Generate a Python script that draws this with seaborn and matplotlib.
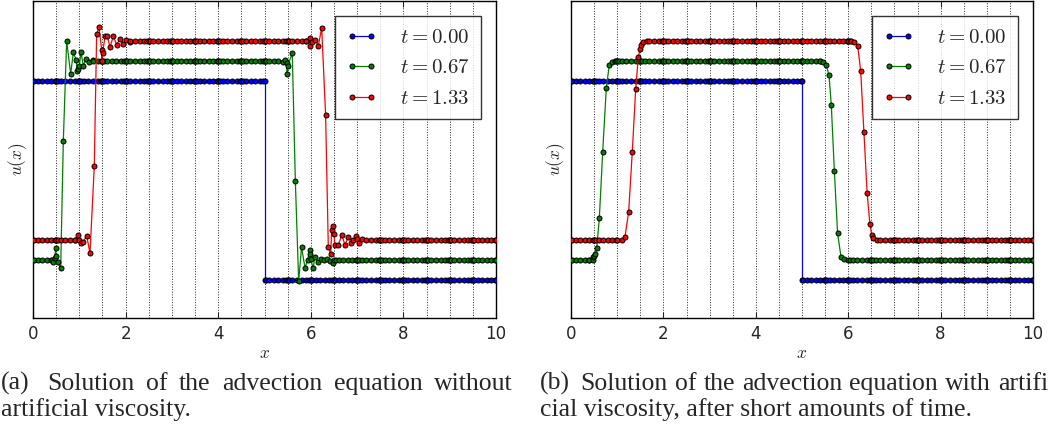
import numpy as np
import pandas as pd
import matplotlib
matplotlib.use("Agg")
import matplotlib.pyplot as plt
import seaborn as sns

# ---------------- data ----------------
LABELS = [r"$t=0.00$", r"$t=0.67$", r"$t=1.33$"]
COLORS = ["#0000ff", "#008000", "#ff0000"]
SHIFT = [0.0, 0.1, 0.2]          # vertical offset used for display
STEP_RISE = [0.0, 0.67, 1.33]    # plateau u=1 between rise and fall
STEP_FALL = [5.0, 5.67, 6.33]
ELEM_W = 0.5
N_ELEM = 20
NODE_FRAC = [0.0, 0.0641, 0.2042, 0.3954, 0.6046, 0.7958, 0.9359, 1.0]
XTICKS = [0, 2, 4, 6, 8, 10]

# (a) without artificial viscosity -- transitions
A_G_RISE_X = [0.40, 0.44, 0.47, 0.49, 0.50, 0.53, 0.598, 0.655, 0.727, 0.814, 0.871,
              0.929, 0.957, 0.98, 1.0, 1.037, 1.087, 1.145, 1.216, 1.30]
A_G_RISE_U = [0.0, -0.01, 0.01, 0.06, 0.02, -0.01, -0.04, 0.60, 1.10, 0.935, 1.042,
              1.006, 0.947, 0.96, 0.975, 1.042, 0.975, 1.009, 0.992, 1.002]
A_G_FALL_X = [5.30, 5.40, 5.45, 5.48, 5.49, 5.50, 5.60, 5.666, 5.738, 5.80, 5.875, 5.93,
              5.976, 5.99, 6.0, 6.05, 6.09, 6.15, 6.21, 6.28, 6.35, 6.42, 6.47, 6.50, 6.55]
A_G_FALL_U = [1.0, 0.995, 1.005, 0.99, 0.935, 0.972, 1.04, 0.397, -0.105, 0.064, -0.038, 0.0,
              0.05, 0.03, 0.005, -0.04, 0.017, -0.01, 0.005, 0.0, 0.005, -0.005, -0.013, 0.003, 0.0]
A_R_RISE_X = [0.90, 0.979, 1.0, 1.044, 1.087, 1.16, 1.231, 1.324, 1.375, 1.425, 1.483, 1.49,
              1.505, 1.555, 1.605, 1.663, 1.735, 1.807, 1.879, 1.95, 2.01, 2.095]
A_R_RISE_U = [0.0, 0.026, 0.0, -0.012, -0.007, 0.023, -0.066, 0.373, 1.035, 1.068, 0.956, 0.90,
              0.939, 1.023, 1.023, 0.969, 1.023, 0.981, 1.011, 0.986, 1.002, 0.993]
A_R_FALL_X = [5.90, 5.98, 5.985, 6.03, 6.09, 6.163, 6.235, 6.32, 6.378, 6.43, 6.45, 6.473, 6.50,
              6.52, 6.595, 6.667, 6.74, 6.81, 6.87, 6.92, 6.976, 7.0, 7.05, 7.10, 7.2]
A_R_FALL_U = [1.0, 1.014, 0.973, 0.995, 1.006, 0.976, 1.065, 0.628, -0.033, -0.071, 0.051, 0.073, 0.03,
              -0.024, -0.024, 0.026, -0.024, 0.018, -0.012, 0.0, 0.02, 0.005, -0.012, 0.005, 0.0]

# (b) with artificial viscosity
B_G_RISE_X = [0.40, 0.47, 0.483, 0.50, 0.523, 0.556, 0.613, 0.686, 0.764, 0.829, 0.887, 0.95]
B_G_RISE_U = [0.0, 0.003, 0.014, 0.02, 0.031, 0.059, 0.21, 0.542, 0.863, 0.98, 0.995, 1.0]
B_G_FALL_X = [5.40, 5.46, 5.52, 5.584, 5.634, 5.70, 5.77, 5.844, 5.909, 6.0]
B_G_FALL_U = [1.0, 0.995, 0.98, 0.93, 0.779, 0.449, 0.135, 0.017, 0.004, 0.0]
B_R_RISE_X = [1.0, 1.10, 1.169, 1.248, 1.327, 1.40, 1.457, 1.494, 1.515, 1.565, 1.65]
B_R_RISE_U = [0.0, 0.003, 0.018, 0.143, 0.445, 0.758, 0.919, 0.959, 0.98, 0.994, 1.0]
B_R_FALL_X = [6.05, 6.13, 6.205, 6.27, 6.34, 6.41, 6.47, 6.51, 6.54, 6.62]
B_R_FALL_U = [1.0, 0.994, 0.976, 0.85, 0.545, 0.236, 0.081, 0.026, 0.009, 0.0]

CAPTION_A = ["(a) Solution of the advection equation without", "artificial viscosity."]
CAPTION_B = ["(b) Solution of the advection equation with artifi",
             "cial viscosity, after short amounts of time."]

PANEL_A = [[], [(A_G_RISE_X, A_G_RISE_U), (A_G_FALL_X, A_G_FALL_U)],
           [(A_R_RISE_X, A_R_RISE_U), (A_R_FALL_X, A_R_FALL_U)]]
PANEL_B = [[], [(B_G_RISE_X, B_G_RISE_U), (B_G_FALL_X, B_G_FALL_U)],
           [(B_R_RISE_X, B_R_RISE_U), (B_R_FALL_X, B_R_FALL_U)]]


def build_series(rise, fall, windows):
    xs, us = [], []
    for k in range(N_ELEM):
        a = k * ELEM_W
        for f in NODE_FRAC:
            x = a + f * ELEM_W
            if any(min(wx) <= x <= max(wx) for wx, _ in windows):
                continue
            xe = a + min(max(f, 1e-6), 1 - 1e-6) * ELEM_W
            xs.append(x)
            us.append(1.0 if rise <= xe < fall else 0.0)
    for wx, wu in windows:
        xs += list(wx)
        us += list(wu)
    xs = np.array(xs)
    us = np.array(us)
    order = np.argsort(xs, kind="stable")
    return xs[order], us[order]


def panel_frame(panel):
    frames = []
    for i in range(3):
        x, u = build_series(STEP_RISE[i], STEP_FALL[i], panel[i])
        frames.append(pd.DataFrame({"x": x, "y": u + SHIFT[i], "t": LABELS[i]}))
    return pd.concat(frames, ignore_index=True)


# ---------------- style ----------------
sns.set_style("ticks")
plt.rcParams["font.family"] = ["DejaVu Sans"]
plt.rcParams["mathtext.fontset"] = "cm"

W, H = 1050, 429
fig = plt.figure(figsize=(W / 100, H / 100), dpi=100)

ax_pos = [(33, 496), (571, 1033)]
top_px, bot_px = 1, 318

for (lpx, rpx), panel in zip(ax_pos, [PANEL_A, PANEL_B]):
    ax = fig.add_axes([lpx / W, 1 - bot_px / H, (rpx - lpx) / W, (bot_px - top_px) / H])
    df = panel_frame(panel)
    sns.lineplot(data=df, x="x", y="y", hue="t", palette=COLORS, sort=False,
                 estimator=None, ax=ax, legend=False, lw=0.9, marker="o",
                 markersize=3.6, markeredgecolor="black", markeredgewidth=0.7,
                 zorder=3)
    handles = list(ax.get_lines())[:3]
    for xv in np.arange(ELEM_W, N_ELEM * ELEM_W, ELEM_W):
        ax.axvline(xv, ls=":", color="black", lw=0.7, alpha=0.85, zorder=0)
    ax.set_xlim(0, 10)
    ax.set_ylim(-0.19, 1.40)
    ax.set_xticks(XTICKS)
    ax.set_yticks([])
    ax.tick_params(axis="x", direction="in", top=True, length=4, width=0.8,
                   labelsize=12, pad=5)
    for s in ax.spines.values():
        s.set_visible(True)
        s.set_color("black")
        s.set_linewidth(1.0)
    ax.set_xlabel(r"$x$", fontsize=12.5, labelpad=1)
    ax.set_ylabel(r"$u(x)$", fontsize=12.5, labelpad=3)
    leg = ax.legend(handles, LABELS, loc="upper right", fontsize=15,
                    frameon=True, fancybox=False, edgecolor="black",
                    borderpad=0.55, handlelength=1.5, handletextpad=1.1,
                    labelspacing=0.5, borderaxespad=0.7, numpoints=2)
    leg.get_frame().set_linewidth(1.0)

# ---------------- captions (justified first lines) ----------------
renderer = fig.canvas.get_renderer()
CAP_FS = 18.5


def justified_line(text, x0, x1, y_base):
    words = text.split(" ")
    objs = [fig.text(0, 1 - y_base / H, w, fontsize=CAP_FS, family="Liberation Serif",
                     va="baseline", ha="left") for w in words]
    widths = [o.get_window_extent(renderer).width for o in objs]
    weights = [1.5] + [1.0] * (len(words) - 2)
    gap_unit = (x1 - x0 - sum(widths)) / sum(weights)
    x = x0
    for i, o in enumerate(objs):
        o.set_x(x / W)
        x += widths[i]
        if i < len(weights):
            x += gap_unit * weights[i]


def plain_line(text, x0, y_base):
    fig.text(x0 / W, 1 - y_base / H, text, fontsize=CAP_FS, family="Liberation Serif",
             va="baseline", ha="left")


justified_line(CAPTION_A[0], 1, 513, 390)
plain_line(CAPTION_A[1], 1, 416)
justified_line(CAPTION_B[0], 540, 1048, 390)
plain_line(CAPTION_B[1], 540, 416)

fig.savefig("out.png", dpi=100)
